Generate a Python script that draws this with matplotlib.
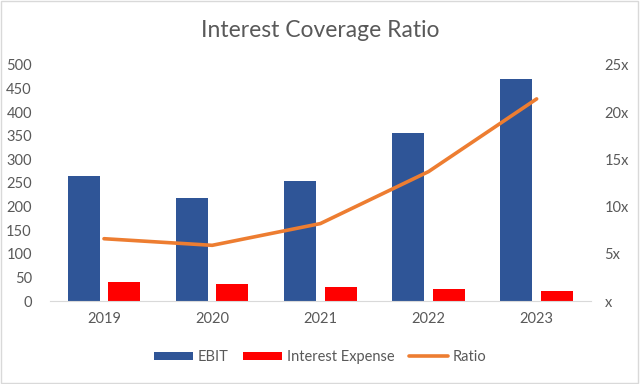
import matplotlib.pyplot as plt
import numpy as np
from matplotlib.ticker import FuncFormatter

plt.rcParams['font.family'] = ['Lato', 'DejaVu Sans']

years = ['2019', '2020', '2021', '2022', '2023']
ebit = [265, 219, 254, 356, 471]
interest = [39.5, 36, 30, 25, 21]
ratio = [6.6, 5.9, 8.2, 13.7, 21.4]

txt = '#595959'
fig = plt.figure(figsize=(6.4, 3.84), dpi=100)
fig.patches.append(plt.Rectangle((0.002, 0.003), 0.995, 0.994, transform=fig.transFigure,
                                 fill=False, edgecolor='#d9d9d9', linewidth=1))
ax = fig.add_axes([0.078, 0.216, 0.845, 0.615])
x = np.arange(len(years))
w = 0.295
ax.bar(x - w / 2 - 0.04, ebit, w, color='#2F5597', label='EBIT')
ax.bar(x + w / 2 + 0.04, interest, w, color='#FF0000', label='Interest Expense')
ax.set_xlim(-0.5, 4.5)
ax.set_ylim(0, 500)
ax.set_yticks(range(0, 501, 50))
ax.set_xticks(x)
ax.set_xticklabels(years)

ax2 = ax.twinx()
ax2.plot(x, ratio, color='#ED7D31', linewidth=2.6, label='Ratio', solid_capstyle='round')
ax2.set_ylim(0, 25)
ax2.set_yticks(range(0, 26, 5))
ax2.yaxis.set_major_formatter(FuncFormatter(lambda v, p: f'{v:g}x' if v else 'x'))

for a in (ax, ax2):
    for s in a.spines.values():
        s.set_visible(False)
    a.tick_params(length=0, labelsize=10.5, colors=txt)
ax.spines['bottom'].set_visible(True)
ax.spines['bottom'].set_color('#d9d9d9')
ax.tick_params(axis='y', pad=13)
ax.tick_params(axis='x', pad=8)
ax2.tick_params(axis='y', pad=10)

fig.text(0.5, 0.92, 'Interest Coverage Ratio', ha='center', va='center', fontsize=16.5, color=txt)

h1, l1 = ax.get_legend_handles_labels()
h2, l2 = ax2.get_legend_handles_labels()
fig.legend(h1 + h2, l1 + l2, loc='center', bbox_to_anchor=(0.5, 0.07), ncol=3, frameon=False,
           fontsize=10.5, labelcolor=txt, handlelength=2.7, handleheight=0.5, handletextpad=0.3,
           columnspacing=1.0)

plt.savefig('out.png')
